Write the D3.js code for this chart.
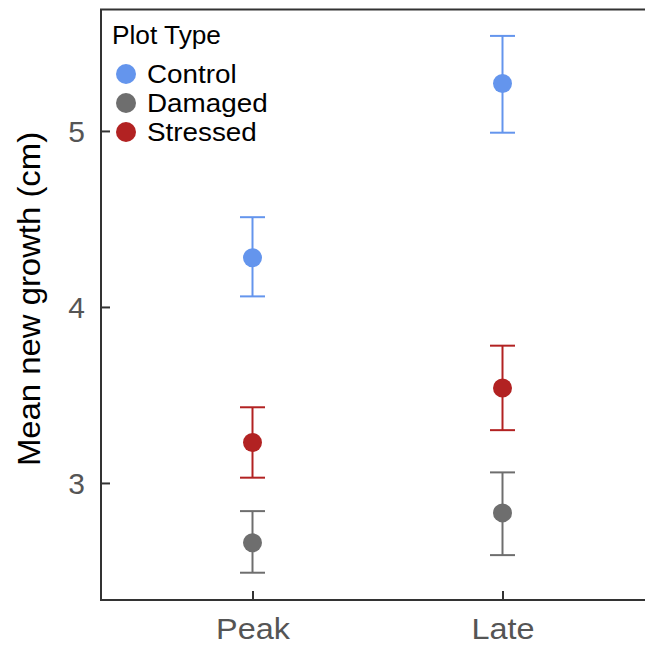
<!DOCTYPE html>
<html>
<head>
<meta charset="utf-8">
<script src="https://cdn.jsdelivr.net/npm/d3@7"></script>
<style>
  html, body { margin: 0; padding: 0; background: #fff; }
  svg { display: block; font-family: "Liberation Sans", Arial, sans-serif; }
</style>
</head>
<body>
<svg id="chart" width="645" height="646"></svg>
<script>
// Growth stages on the x axis
const stages = ["Peak", "Late"];
// Plot types (legend order) and their colours
const plotTypes = ["Control", "Damaged", "Stressed"];
const typeColors = ["#6495ED", "#6E6E6E", "#B22222"];
// Mean new growth (cm) for each plot type, by stage
const meanControl  = [4.28, 5.27];
const meanDamaged  = [2.66, 2.83];
const meanStressed = [3.23, 3.54];
// Upper and lower error-bar limits
const upperControl  = [4.51, 5.54];
const lowerControl  = [4.06, 4.99];
const upperDamaged  = [2.84, 3.06];
const lowerDamaged  = [2.49, 2.59];
const upperStressed = [3.43, 3.78];
const lowerStressed = [3.03, 3.30];
// Y axis ticks
const yTicks = [3, 4, 5];

const means = [meanControl, meanDamaged, meanStressed];
const uppers = [upperControl, upperDamaged, upperStressed];
const lowers = [lowerControl, lowerDamaged, lowerStressed];

const rows = [];
plotTypes.forEach((t, i) => {
  stages.forEach((s, j) => {
    rows.push({ type: t, stage: s, mean: means[i][j], hi: uppers[i][j], lo: lowers[i][j] });
  });
});

// Stretch text slightly along its baseline (wide glyph rendering)
function widen(sel, k) {
  sel.each(function () {
    const len = this.getComputedTextLength();
    d3.select(this).attr("textLength", len * k).attr("lengthAdjust", "spacingAndGlyphs");
  });
}

const svg = d3.select("#chart");
const panel = { left: 101, top: 9.5, right: 652, bottom: 600 };

const x = d3.scalePoint().domain(stages).range([102.5, 652.5]).padding(0.6);
const y = d3.scaleLinear().domain([2.335, 5.69]).range([panel.bottom, panel.top]);
const color = d3.scaleOrdinal().domain(plotTypes).range(typeColors);

// Panel border
svg.append("rect")
  .attr("x", panel.left).attr("y", panel.top)
  .attr("width", panel.right - panel.left).attr("height", panel.bottom - panel.top)
  .attr("fill", "none").attr("stroke", "#333").attr("stroke-width", 2);

// Y axis with inward ticks
const yAxis = svg.append("g")
  .attr("transform", `translate(${panel.left},0)`)
  .call(d3.axisLeft(y).tickValues(yTicks).tickFormat(d3.format("d")).tickSizeInner(-9).tickSizeOuter(0).tickPadding(16));
yAxis.select(".domain").remove();
yAxis.selectAll(".tick line").attr("stroke", "#333").attr("stroke-width", 2);
yAxis.selectAll(".tick text")
  .attr("fill", "#555").attr("font-size", 30).attr("dy", "0.36em")
  .attr("font-family", "Liberation Sans, Arial, sans-serif");

// X axis with inward ticks
const xAxis = svg.append("g")
  .attr("transform", `translate(0,${panel.bottom})`)
  .call(d3.axisBottom(x).tickSizeInner(-9).tickSizeOuter(0).tickPadding(18));
xAxis.select(".domain").remove();
xAxis.selectAll(".tick line").attr("stroke", "#333").attr("stroke-width", 2);
xAxis.selectAll(".tick text")
  .attr("fill", "#555").attr("font-size", 30).attr("dy", "0.71em")
  .attr("font-family", "Liberation Sans, Arial, sans-serif")
  .call(widen, 1.08);

// Y axis title
svg.append("text")
  .attr("transform", `translate(40,299) rotate(-90)`)
  .attr("text-anchor", "middle")
  .attr("font-size", 31)
  .attr("fill", "#000")
  .text("Mean new growth (cm)")
  .call(widen, 1.06);

// Error bars
const capHalf = 12.5;
const bars = svg.append("g").selectAll("g").data(rows).join("g")
  .attr("stroke", d => color(d.type)).attr("stroke-width", 2);
bars.append("line")
  .attr("x1", d => x(d.stage)).attr("x2", d => x(d.stage))
  .attr("y1", d => y(d.hi)).attr("y2", d => y(d.lo));
bars.append("line")
  .attr("x1", d => x(d.stage) - capHalf).attr("x2", d => x(d.stage) + capHalf)
  .attr("y1", d => y(d.hi)).attr("y2", d => y(d.hi));
bars.append("line")
  .attr("x1", d => x(d.stage) - capHalf).attr("x2", d => x(d.stage) + capHalf)
  .attr("y1", d => y(d.lo)).attr("y2", d => y(d.lo));

// Mean points
svg.append("g").selectAll("circle").data(rows).join("circle")
  .attr("cx", d => x(d.stage)).attr("cy", d => y(d.mean))
  .attr("r", 9.5).attr("fill", d => color(d.type));

// Legend
const legend = svg.append("g").attr("transform", "translate(112,0)");
legend.append("text")
  .attr("x", 0).attr("y", 44)
  .attr("font-size", 25).attr("fill", "#000")
  .text("Plot Type")
  .call(widen, 1.05);
const items = legend.selectAll("g.item").data(plotTypes).join("g")
  .attr("class", "item")
  .attr("transform", (d, i) => `translate(0,${74 + i * 29})`);
items.append("circle").attr("cx", 14).attr("cy", 0).attr("r", 10).attr("fill", d => color(d));
items.append("text")
  .attr("x", 35).attr("y", 0).attr("dy", "0.36em")
  .attr("font-size", 26).attr("fill", "#000")
  .text(d => d)
  .call(widen, 1.07);
</script>
</body>
</html>
